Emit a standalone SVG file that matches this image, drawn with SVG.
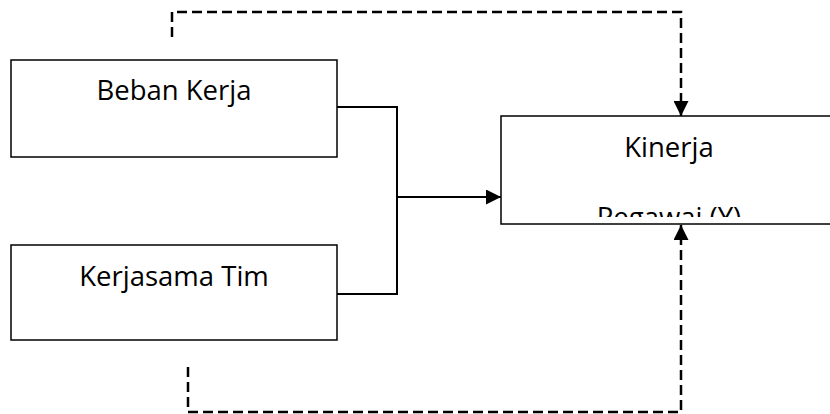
<svg xmlns="http://www.w3.org/2000/svg" width="830" height="414" viewBox="0 0 830 414">
<style>
.box{fill:#fff;stroke:#000;stroke-width:1.5}
.lbl{font-family:"Open Sans","Noto Sans",sans-serif;font-size:27.5px;fill:#000;text-anchor:middle}
.solid{fill:none;stroke:#000;stroke-width:2}
.dash{fill:none;stroke:#000;stroke-width:2.5;stroke-dasharray:10 5}
</style>
<defs>
<marker id="arr" viewBox="0 0 10 10" refX="10" refY="5" markerWidth="16" markerHeight="15" markerUnits="userSpaceOnUse" orient="auto">
<path d="M0,0 L10,5 L0,10 Z" fill="#000"/>
</marker>
<clipPath id="clipY"><rect x="501" y="116" width="330" height="101"/></clipPath>
</defs>
<rect width="830" height="414" fill="#fff"/>
<g id="connectors">
<polyline class="dash" points="172,37 172,12 681,12 681,116" marker-end="url(#arr)"/>
<polyline class="dash" points="188,367 188,412 681,412 681,225" marker-end="url(#arr)"/>
<polyline class="solid" points="337,107 397,107 397,294 337,294"/>
<line class="solid" x1="397" y1="197" x2="501" y2="197" marker-end="url(#arr)"/>
</g>
<g id="beban-kerja">
<rect class="box" x="11" y="60" width="326" height="97"/>
<text class="lbl" x="174" y="100">Beban Kerja</text>
</g>
<g id="kerjasama-tim">
<rect class="box" x="11" y="245" width="326" height="95"/>
<text class="lbl" x="174" y="286">Kerjasama Tim</text>
</g>
<g id="kinerja-pegawai">
<rect class="box" x="501" y="116" width="335" height="108"/>
<g clip-path="url(#clipY)">
<text class="lbl" x="669" y="157">Kinerja</text>
<text class="lbl" x="669" y="227">Pegawai (Y)</text>
</g>
</g>
</svg>
